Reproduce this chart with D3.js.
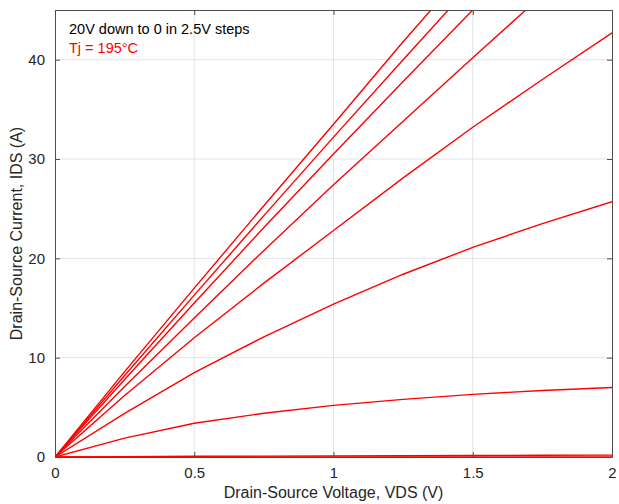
<!DOCTYPE html>
<html><head><meta charset="utf-8">
<script src="https://cdn.jsdelivr.net/npm/d3@7"></script>
<style>body{margin:0;background:#fff;} svg{display:block;}</style>
</head><body>
<script>
const vds = [0, 0.25, 0.5, 0.75, 1, 1.25, 1.5, 1.75, 2];
const vgsLabels = ["20V", "17.5V", "15V", "12.5V", "10V", "7.5V", "5V", "2.5V", "0V"];
const ids20 = [0, 8.6, 17.0, 25.3, 33.5, 41.8, 49.8, 57.6, 65.2];
const ids175 = [0, 8.2, 16.3, 24.3, 32.2, 40.0, 47.7, 55.2, 62.6];
const ids15 = [0, 7.8, 15.5, 23.1, 30.5, 37.8, 45.0, 52.0, 59.0];
const ids125 = [0, 7.1, 14.0, 20.8, 27.4, 33.8, 40.2, 46.5, 52.6];
const ids10 = [0, 6.2, 12.0, 17.5, 22.8, 28.1, 33.2, 38.0, 42.7];
const ids75 = [0, 4.4, 8.5, 12.1, 15.4, 18.4, 21.1, 23.5, 25.7];
const ids5 = [0, 1.9, 3.4, 4.4, 5.2, 5.8, 6.3, 6.7, 7.0];
const ids25 = [0, 0.04, 0.07, 0.09, 0.11, 0.13, 0.15, 0.17, 0.19];
const ids0 = [0, 0, 0, 0, 0, 0, 0, 0, 0];
const series = [ids20, ids175, ids15, ids125, ids10, ids75, ids5, ids25, ids0];
const xTicks = [0, 0.5, 1, 1.5, 2];
const xTickLabels = ["0", "0.5", "1", "1.5", "2"];
const yTicks = [0, 10, 20, 30, 40];
const xTitle = "Drain-Source Voltage, VDS (V)";
const yTitle = "Drain-Source Current, IDS (A)";
const note1 = "20V down to 0 in 2.5V steps";
const note2 = "Tj = 195°C";

const W = 619, H = 504;
const m = {left: 55, right: 7, top: 10, bottom: 47};
const svg = d3.select("body").append("svg").attr("width", W).attr("height", H);
const x = d3.scaleLinear().domain([0, 2]).range([m.left, W - m.right]);
const y = d3.scaleLinear().domain([0, 45]).range([H - m.bottom, m.top]);
const font = "'Liberation Sans', Arial, Helvetica, sans-serif";
const axisCol = "#4d4d4d";
const textCol = "#262626";

// grid
const g = svg.append("g");
g.selectAll(".gx").data(xTicks.slice(1, -1)).enter().append("line")
  .attr("x1", d => x(d)).attr("x2", d => x(d)).attr("y1", y(0)).attr("y2", y(45))
  .attr("stroke", "#e3e3e3").attr("stroke-width", 1);
g.selectAll(".gy").data(yTicks.slice(1)).enter().append("line")
  .attr("y1", d => y(d)).attr("y2", d => y(d)).attr("x1", x(0)).attr("x2", x(2))
  .attr("stroke", "#e3e3e3").attr("stroke-width", 1);

// clip
svg.append("clipPath").attr("id", "clip").append("rect")
  .attr("x", x(0)).attr("y", y(45)).attr("width", x(2) - x(0)).attr("height", y(0) - y(45));

const line = d3.line().x((d, i) => x(vds[i])).y(d => y(d));
svg.append("g").attr("clip-path", "url(#clip)")
  .selectAll("path").data(series).enter().append("path")
  .attr("d", d => line(d)).attr("fill", "none").attr("stroke", "#ff0000")
  .attr("stroke-width", 1.4);

// axes (MATLAB style, inward ticks)
const xb = d3.axisBottom(x).tickValues(xTicks).tickFormat((d, i) => xTickLabels[i]).tickSizeInner(-5).tickSizeOuter(0).tickPadding(10);
const yl = d3.axisLeft(y).tickValues(yTicks).tickFormat(d3.format("d")).tickSizeInner(-5).tickSizeOuter(0).tickPadding(10);
const xt = d3.axisTop(x).tickValues(xTicks).tickFormat("").tickSizeInner(-5).tickSizeOuter(0);
const yr = d3.axisRight(y).tickValues(yTicks).tickFormat("").tickSizeInner(-5).tickSizeOuter(0);
const styleAxis = s => {
  s.selectAll("path,line").attr("stroke", axisCol);
  s.selectAll("text").attr("fill", textCol).style("font-family", font).style("font-size", "15px");
};
svg.append("g").attr("transform", `translate(0,${y(0)})`).call(xb).call(styleAxis);
svg.append("g").attr("transform", `translate(${x(0)},0)`).call(yl).call(styleAxis);
svg.append("g").attr("transform", `translate(0,${y(45)})`).call(xt).call(styleAxis);
svg.append("g").attr("transform", `translate(${x(2)},0)`).call(yr).call(styleAxis);

// titles
svg.append("text").attr("x", (x(0) + x(2)) / 2).attr("y", 498).attr("text-anchor", "middle")
  .attr("fill", textCol).style("font-family", font).style("font-size", "16px").text(xTitle);
svg.append("text").attr("transform", `translate(22,${(y(0) + y(45)) / 2}) rotate(-90)`)
  .attr("text-anchor", "middle").attr("fill", textCol)
  .style("font-family", font).style("font-size", "16px").text(yTitle);

// notes
svg.append("text").attr("x", 69).attr("y", 34).attr("fill", "#000")
  .style("font-family", font).style("font-size", "14.5px").text(note1);
svg.append("text").attr("x", 69).attr("y", 53).attr("fill", "#ff0000")
  .style("font-family", font).style("font-size", "14.5px").text(note2);
</script>
</body></html>
